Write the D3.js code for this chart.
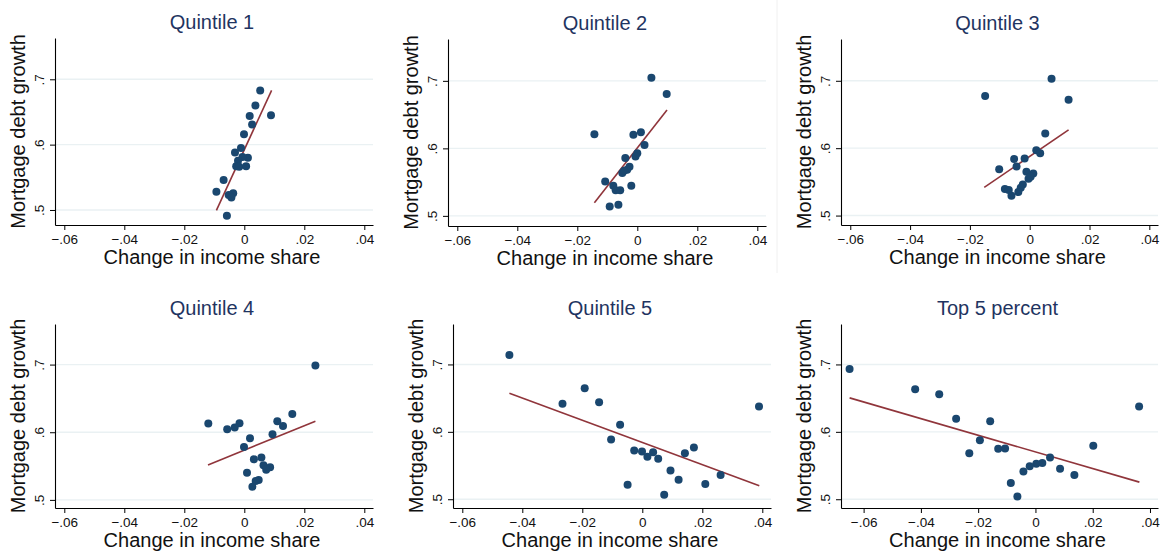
<!DOCTYPE html>
<html>
<head>
<meta charset="utf-8">
<script src="https://cdn.jsdelivr.net/npm/d3@7"></script>
<style>
  body { margin: 0; background: #fff; }
  svg { display: block; font-family: "Liberation Sans", Arial, sans-serif; }
</style>
</head>
<body>
<svg id="chart" width="1164" height="556"></svg>
<script>
// panel titles
const panelTitles = ['Quintile 1', 'Quintile 2', 'Quintile 3', 'Quintile 4', 'Quintile 5', 'Top 5 percent'];

// tick values shared by all panels
const xTicks = [-0.06, -0.04, -0.02, 0, 0.02, 0.04];
const yTicks = [0.5, 0.6, 0.7];

// change in income share (x) and mortgage debt growth (y)
const q1Share = [0.0053, 0.0037, 0.0089, 0.0018, 0.0026, -0.0001, -0.0011, -0.0031, 0.0012, -0.0006,
  -0.0021, -0.0027, -0.0017, 0.0006, -0.0069, -0.0093, -0.0037, -0.0052, -0.0043, -0.0058];
const q1Growth = [0.683, 0.660, 0.645, 0.644, 0.631, 0.616, 0.595, 0.588, 0.580, 0.581,
  0.5755, 0.567, 0.566, 0.567, 0.546, 0.528, 0.5255, 0.523, 0.519, 0.491];

const q2Share = [0.0047, 0.0098, -0.0143, -0.0013, 0.0012, 0.0024, 0.0, -0.0006, -0.004, -0.0026,
  -0.0034, -0.005, -0.0107, -0.008, -0.002, -0.0057, -0.0072, -0.0092, -0.0063, -0.0044];
const q2Growth = [0.7047, 0.6805, 0.621, 0.620, 0.624, 0.605, 0.5926, 0.588, 0.5857, 0.5728,
  0.5684, 0.5635, 0.551, 0.5447, 0.5447, 0.538, 0.5378, 0.514, 0.5165, 0.567];

const q3Share = [0.0073, -0.0149, 0.013, 0.0052, 0.0022, 0.0035, -0.0052, -0.0017, -0.0044, -0.0102,
  -0.0011, 0.0012, -0.0004, 0.0003, -0.0023, -0.003, -0.0038, -0.0083, -0.007, -0.0061];
const q3Growth = [0.703, 0.6775, 0.672, 0.6217, 0.597, 0.5926, 0.584, 0.5847, 0.5728, 0.5689,
  0.565, 0.5625, 0.5546, 0.5575, 0.5462, 0.5412, 0.5348, 0.5393, 0.5378, 0.5294];

const q4Share = [0.0237, 0.016, -0.012, -0.0016, 0.011, 0.0129, -0.0032, -0.0057, 0.0094, 0.0019,
  -0.0001, 0.0032, 0.0057, 0.0064, 0.0086, 0.0073, 0.0009, 0.0048, 0.0038, 0.0027];
const q4Growth = [0.6988, 0.627, 0.6128, 0.6133, 0.6163, 0.6094, 0.6069, 0.6044, 0.597, 0.5911,
  0.5783, 0.560, 0.5625, 0.5511, 0.5481, 0.5447, 0.5402, 0.5294, 0.5279, 0.5195];

const q5Share = [-0.0443, -0.0192, -0.0266, -0.0144, 0.0389, -0.0074, -0.0104, -0.0027, -0.0001, 0.0036,
  0.0017, 0.0053, 0.0142, 0.0172, 0.0094, 0.0121, 0.0261, -0.0049, 0.021, 0.0073];
const q5Growth = [0.714, 0.6647, 0.6415, 0.644, 0.6375, 0.6104, 0.5886, 0.5723, 0.5709, 0.5699,
  0.563, 0.560, 0.5684, 0.5768, 0.5427, 0.5289, 0.5358, 0.5215, 0.5225, 0.5067];

const top5Share = [-0.0649, -0.042, -0.0336, -0.0277, -0.0158, 0.0362, -0.0194, -0.0231, -0.013, -0.0106,
  0.0202, 0.0051, 0.0024, 0.0003, -0.002, -0.0042, 0.0086, 0.0136, -0.0086, -0.0063];
const top5Growth = [0.6933, 0.6632, 0.6558, 0.6193, 0.6158, 0.6375, 0.5877, 0.5684, 0.5748, 0.5753,
  0.5793, 0.562, 0.5536, 0.5526, 0.5491, 0.5412, 0.5452, 0.5358, 0.524, 0.5042];

// fitted line end points [x, y]
const q1Fit = [[-0.0093, 0.4995], [0.0091, 0.683]];
const q2Fit = [[-0.0143, 0.5195], [0.0099, 0.6568]];
const q3Fit = [[-0.0152, 0.5417], [0.013, 0.6272]];
const q4Fit = [[-0.0121, 0.5516], [0.0237, 0.6163]];
const q5Fit = [[-0.0443, 0.6573], [0.039, 0.520]];
const top5Fit = [[-0.0649, 0.6504], [0.0363, 0.5254]];

// axis ranges per panel
const xDomains = [[-0.0631, 0.0429], [-0.0631, 0.0429], [-0.0631, 0.0429],
  [-0.0631, 0.0429], [-0.0631, 0.0429], [-0.0679, 0.0428]];
const yDomains = [[0.477, 0.7632], [0.485, 0.762], [0.486, 0.762],
  [0.488, 0.760], [0.487, 0.760], [0.487, 0.760]];

const shares = [q1Share, q2Share, q3Share, q4Share, q5Share, top5Share];
const growths = [q1Growth, q2Growth, q3Growth, q4Growth, q5Growth, top5Growth];
const fits = [q1Fit, q2Fit, q3Fit, q4Fit, q5Fit, top5Fit];

// plot areas (pixels)
const plotRects = [
  { l: 55, t: 38, r: 373, b: 225 },
  { l: 448, t: 39, r: 766, b: 226 },
  { l: 841, t: 39, r: 1158, b: 225 },
  { l: 55, t: 324, r: 373, b: 508 },
  { l: 453, t: 324, r: 771, b: 508 },
  { l: 841, t: 324, r: 1158, b: 508 },
];

const navy = '#1a476f';
const maroon = '#90353b';
const gridColor = '#eaf1f3';

// stata style labels: -.06, .04, 0
const fmt = (v) => {
  if (Math.abs(v) < 1e-9) return '0';
  const s = d3.format('.2~f')(Math.abs(v)).replace(/^0/, '');
  return (v < 0 ? '\u2212' : '') + s;
};

const svg = d3.select('#chart');

// faint border between the two top-right images
svg.append('line')
  .attr('x1', 777).attr('x2', 777).attr('y1', 0).attr('y2', 273)
  .attr('stroke', '#f0f0f0').attr('stroke-width', 1);

panelTitles.forEach((title, i) => {
  const rc = plotRects[i];
  const x = d3.scaleLinear().domain(xDomains[i]).range([rc.l, rc.r]);
  const y = d3.scaleLinear().domain(yDomains[i]).range([rc.b, rc.t]);
  const g = svg.append('g');

  // gridlines
  g.selectAll('.grid')
    .data(yTicks)
    .enter()
    .append('line')
    .attr('x1', rc.l).attr('x2', rc.r)
    .attr('y1', (d) => y(d)).attr('y2', (d) => y(d))
    .attr('stroke', gridColor).attr('stroke-width', 1.4);

  // axes
  const xAxis = d3.axisBottom(x).tickValues(xTicks).tickFormat(fmt).tickSize(5).tickSizeOuter(0).tickPadding(4);
  const yAxis = d3.axisLeft(y).tickValues(yTicks).tickFormat(fmt).tickSize(5).tickSizeOuter(0);

  const gx = g.append('g')
    .attr('transform', `translate(0, ${rc.b})`)
    .call(xAxis);
  gx.selectAll('text').attr('font-size', 13.5).attr('fill', '#111');

  const gy = g.append('g')
    .attr('transform', `translate(${rc.l}, 0)`)
    .call(yAxis);
  gy.selectAll('text')
    .attr('font-size', 13.5).attr('fill', '#111')
    .attr('transform', 'rotate(-90)')
    .attr('x', 0).attr('y', -11).attr('dy', 0)
    .attr('text-anchor', 'middle');

  g.selectAll('.domain').attr('stroke', '#000').attr('stroke-width', 1.1);
  g.selectAll('.tick line').attr('stroke', '#000');

  // fitted line
  g.append('line')
    .attr('x1', x(fits[i][0][0])).attr('y1', y(fits[i][0][1]))
    .attr('x2', x(fits[i][1][0])).attr('y2', y(fits[i][1][1]))
    .attr('stroke', maroon).attr('stroke-width', 1.6);

  // points
  g.selectAll('.dot')
    .data(shares[i].map((s, k) => ({ s, v: growths[i][k] })))
    .enter()
    .append('circle')
    .attr('cx', (d) => x(d.s))
    .attr('cy', (d) => y(d.v))
    .attr('r', 4)
    .attr('fill', navy);

  // titles
  const cx = (rc.l + rc.r) / 2 - 2;
  g.append('text')
    .attr('x', cx).attr('y', rc.t - 9)
    .attr('text-anchor', 'middle')
    .attr('font-size', 20)
    .attr('fill', '#1f3461')
    .text(title);

  g.append('text')
    .attr('x', cx).attr('y', rc.b + 39)
    .attr('text-anchor', 'middle')
    .attr('font-size', 20)
    .attr('fill', '#111')
    .text('Change in income share');

  g.append('text')
    .attr('transform', `translate(${rc.l - 30}, ${(rc.t + rc.b) / 2}) rotate(-90)`)
    .attr('text-anchor', 'middle')
    .attr('font-size', 20)
    .attr('fill', '#111')
    .text('Mortgage debt growth');
});
</script>
</body>
</html>
